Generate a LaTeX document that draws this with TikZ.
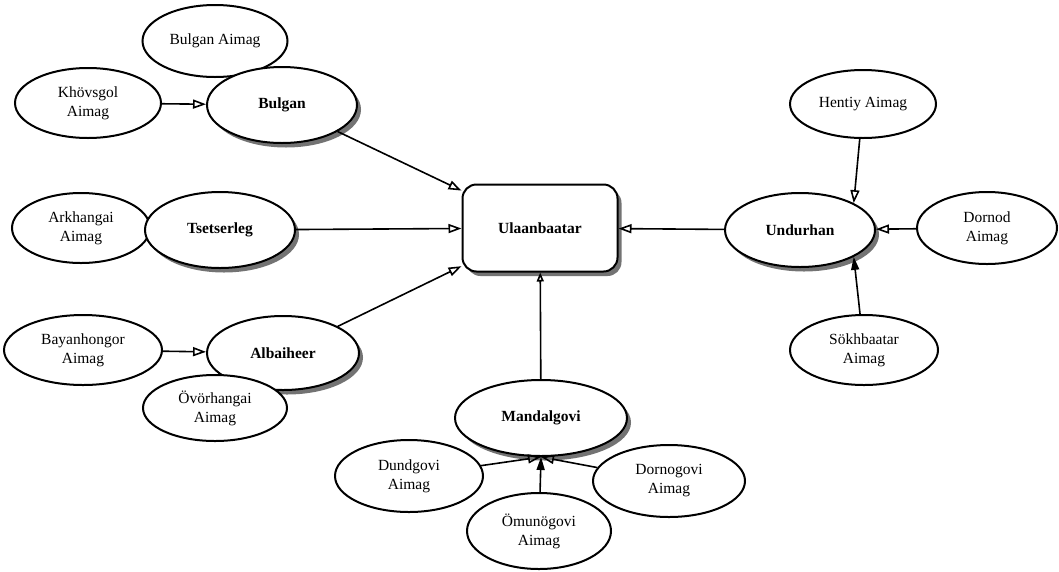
\documentclass[tikz,border=0pt]{standalone}
\usepackage{fontspec}
\setmainfont{Liberation Serif}
\usetikzlibrary{shapes.geometric,shadows,arrows.meta}

\tikzset{
  aimag/.style={ellipse, draw, line width=2pt, fill=white, inner sep=0pt,
    align=center, font=\fontsize{15.5}{19}\selectfont},
  shade3d/.style={drop shadow={shadow xshift=4pt, shadow yshift=-4.5pt,
    fill=black!55, opacity=1}},
  city/.style={aimag, shade3d, font=\bfseries\fontsize{15.5}{19}\selectfont},
  link/.style={line width=1.6pt, -{Triangle[open,length=13pt,width=9pt]}},
  linkfill/.style={line width=1.6pt, -{Triangle[length=13pt,width=8pt]}}
}

\begin{document}
\begin{tikzpicture}[x=1pt, y=-1pt]
  \useasboundingbox (0,0) rectangle (1059,571);

  % The capital
  \node[draw, line width=2pt, fill=white, rounded corners=14pt, shade3d,
        minimum width=155pt, minimum height=87pt,
        font=\bfseries\fontsize{15.5}{19}\selectfont]
        (ub) at (540,228) {Ulaanbaatar};

  % West: Bulgan
  \node[aimag, minimum width=145pt, minimum height=72pt] (bulganA) at (215,41) {Bulgan Aimag};
  \node[aimag, minimum width=146pt, minimum height=70pt] (khovsgol) at (88,103) {Khövsgol\\Aimag};
  \node[city, minimum width=150pt, minimum height=76pt] (bulgan) at (282,105) {Bulgan};

  % West: Tsetserleg
  \node[aimag, minimum width=138pt, minimum height=70pt] (arkhangai) at (81,228) {Arkhangai\\Aimag};
  \node[city, minimum width=150pt, minimum height=76pt] (tsetserleg) at (220,230) {Tsetserleg};

  % West: Albaiheer
  \node[aimag, minimum width=158pt, minimum height=70pt] (bayan) at (83,350) {Bayanhongor\\Aimag};
  \node[city, minimum width=152pt, minimum height=74pt] (albaiheer) at (283,353) {Albaiheer};
  \node[aimag, minimum width=144pt, minimum height=66pt] (ovor) at (215,408) {Övörhangai\\Aimag};

  % East: Undurhan
  \node[aimag, minimum width=146pt, minimum height=68pt] (hentiy) at (863,104) {Hentiy Aimag};
  \node[aimag, minimum width=140pt, minimum height=72pt] (dornod) at (987,228) {Dornod\\Aimag};
  \node[aimag, minimum width=148pt, minimum height=70pt] (sukh) at (864,350) {Sökhbaatar\\Aimag};
  \node[city, minimum width=150pt, minimum height=74pt] (undurhan) at (800,230) {Undurhan};

  % South: Mandalgovi
  \node[city, minimum width=172pt, minimum height=76pt] (mandal) at (541,418) {Mandalgovi};
  \node[aimag, minimum width=148pt, minimum height=72pt] (dund) at (409,476) {Dundgovi\\Aimag};
  \node[aimag, minimum width=152pt, minimum height=72pt] (dorno) at (669,481) {Dornogovi\\Aimag};
  \node[aimag, minimum width=144pt, minimum height=76pt] (omnu) at (539,531) {Ömunögovi\\Aimag};

  % Links to the capital
  \draw[link] (bulgan) -- (ub);
  \draw[link] (tsetserleg) -- (ub);
  \draw[link] (albaiheer) -- (ub);
  \draw[link] (undurhan) -- (ub);
  \draw[line width=1.6pt, -{Triangle[open,length=9pt,width=7pt]}] (mandal) -- (ub);

  % Links to the centres
  \draw[link] (khovsgol) -- (bulgan);
  \draw[link] (bayan) -- (albaiheer);
  \draw[link] (hentiy) -- (undurhan.north east);
  \draw[link] (dornod) -- (undurhan);
  \draw[linkfill] (sukh) -- (undurhan.south east);
  \draw[link] (dund) -- (mandal.south);
  \draw[linkfill] (omnu) -- (mandal.south);
  \draw[link] (dorno) -- (mandal.south);
\end{tikzpicture}
\end{document}
